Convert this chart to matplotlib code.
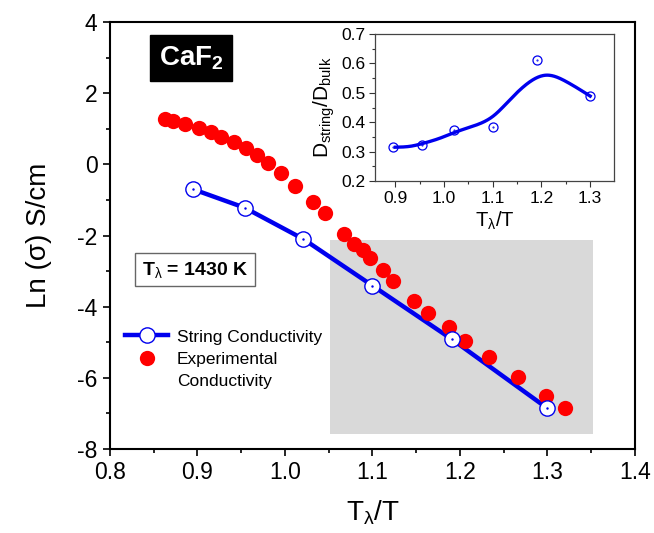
import numpy as np
import matplotlib
matplotlib.use("Agg")
import matplotlib.pyplot as plt
from matplotlib.lines import Line2D
from matplotlib.patches import Rectangle
from matplotlib.ticker import MultipleLocator, FormatStrFormatter

plt.rcParams['font.family'] = ['Liberation Sans', 'DejaVu Sans']
plt.rcParams['mathtext.fontset'] = 'custom'
plt.rcParams['mathtext.rm'] = 'Liberation Sans'
plt.rcParams['mathtext.it'] = 'Liberation Sans'
plt.rcParams['mathtext.bf'] = 'Liberation Sans:bold'
plt.rcParams['axes.unicode_minus'] = False

# Experimental conductivity, ln(sigma) vs T_lambda/T
exp_x = [0.863, 0.872, 0.886, 0.902, 0.915, 0.927, 0.942, 0.956, 0.968, 0.981,
         0.996, 1.011, 1.032, 1.046, 1.067, 1.079, 1.089, 1.097, 1.112, 1.124,
         1.147, 1.164, 1.187, 1.206, 1.233, 1.266, 1.298, 1.320]
exp_y = [1.27, 1.23, 1.13, 1.01, 0.90, 0.78, 0.63, 0.45, 0.26, 0.03,
         -0.25, -0.61, -1.05, -1.38, -1.97, -2.25, -2.41, -2.64, -2.97, -3.27,
         -3.84, -4.19, -4.58, -4.96, -5.41, -5.97, -6.51, -6.84]

# String conductivity
str_x = [0.895, 0.954, 1.021, 1.100, 1.191, 1.299]
str_y = [-0.70, -1.22, -2.10, -3.41, -4.92, -6.84]

# Inset: D_string / D_bulk
ratio_y = [0.315, 0.322, 0.375, 0.384, 0.613, 0.489]
# smoothed trend through the inset points
trend_x = [0.900, 0.930, 0.959, 0.992, 1.026, 1.067, 1.101, 1.135, 1.170, 1.210, 1.251, 1.300]
trend_y = [0.315, 0.318, 0.329, 0.346, 0.368, 0.391, 0.421, 0.476, 0.530, 0.560, 0.538, 0.489]

# highlighted window
win_x = [1.051, 1.352]
win_y = [-7.58, -2.13]

BLUE = '#0000ee'
RED = '#ff0000'


def natural_spline(x, y, n=300):
    x = np.asarray(x, float)
    y = np.asarray(y, float)
    k = len(x)
    h = np.diff(x)
    A = np.zeros((k, k))
    r = np.zeros(k)
    A[0, 0] = A[-1, -1] = 1.0
    for i in range(1, k - 1):
        A[i, i - 1] = h[i - 1]
        A[i, i] = 2 * (h[i - 1] + h[i])
        A[i, i + 1] = h[i]
        r[i] = 3 * ((y[i + 1] - y[i]) / h[i] - (y[i] - y[i - 1]) / h[i - 1])
    c = np.linalg.solve(A, r)
    xs = np.linspace(x[0], x[-1], n)
    idx = np.clip(np.searchsorted(x, xs) - 1, 0, k - 2)
    b = (y[1:] - y[:-1]) / h - h * (2 * c[:-1] + c[1:]) / 3
    d = (c[1:] - c[:-1]) / (3 * h)
    t = xs - x[idx]
    ys = y[idx] + b[idx] * t + c[idx] * t ** 2 + d[idx] * t ** 3
    return xs, ys


fig = plt.figure(figsize=(6.54, 5.33), dpi=100)
ax = fig.add_axes([0.1682, 0.1576, 0.8027, 0.8011])

ax.add_patch(Rectangle((win_x[0], win_y[0]), win_x[1] - win_x[0], win_y[1] - win_y[0],
                       facecolor='#d9d9d9', edgecolor='none', zorder=0))

ax.plot(str_x, str_y, '-', color=BLUE, lw=3.2, zorder=2)
ax.plot(exp_x, exp_y, 'o', color=RED, ms=11, mec='none', zorder=3)
ax.plot(str_x, str_y, 'o', ms=11, mfc='white', mec=BLUE, mew=1.0, ls='none', zorder=4)
ax.plot(str_x, str_y, '.', ms=1.5, color=BLUE, ls='none', zorder=5)

ax.set_xlim(0.8, 1.4)
ax.set_ylim(-8, 4)
ax.xaxis.set_major_locator(MultipleLocator(0.1))
ax.xaxis.set_minor_locator(MultipleLocator(0.05))
ax.yaxis.set_major_locator(MultipleLocator(2))
ax.yaxis.set_minor_locator(MultipleLocator(1))
ax.tick_params(which='both', direction='out', width=1.2, labelsize=16.5, colors='black')
ax.tick_params(which='major', length=5, pad=4)
ax.tick_params(which='minor', length=3)
ax.xaxis.set_major_formatter(FormatStrFormatter('%.1f'))
for s in ax.spines.values():
    s.set_linewidth(1.5)
ax.set_xlabel(r'T$_{\lambda}$/T', fontsize=20, labelpad=10)
ax.set_ylabel('Ln (σ) S/cm', fontsize=20, labelpad=18)

ax.text(0.8926, 2.99, r'CaF$_\mathbf{2}$', color='white', fontsize=20, fontweight='bold',
        ha='center', va='center',
        bbox=dict(boxstyle='square,pad=0.32', facecolor='black', edgecolor='black'))
ax.text(0.897, -2.96, r'T$_\lambda$ = 1430 K', color='black', fontsize=14, fontweight='bold',
        ha='center', va='center',
        bbox=dict(boxstyle='square,pad=0.35', facecolor='white', edgecolor='#666666', lw=1))

h_str = Line2D([], [], color=BLUE, lw=3.2, marker='o', ms=11, mfc='white', mec=BLUE, mew=1.0)
h_exp = Line2D([], [], color=RED, ls='none', marker='o', ms=11, mec='none')
h_blank = Line2D([], [], ls='none', marker='none')
fig.legend([h_str, h_exp, h_blank], ['String Conductivity', 'Experimental', 'Conductivity'],
           loc='upper left', bbox_to_anchor=(0.1911, 0.382), bbox_transform=fig.transFigure,
           frameon=False, fontsize=12.5, handlelength=2.5, handletextpad=0.5,
           labelspacing=0.42, borderpad=0, borderaxespad=0)

# inset
ins = fig.add_axes([0.5734, 0.6604, 0.3654, 0.2758])
tx, ty = natural_spline(trend_x, trend_y)
ins.plot(tx, ty, '-', color=BLUE, lw=2.4, zorder=2)
ins.plot(str_x, ratio_y, 'o', ms=6.5, mfc='none', mec=BLUE, mew=0.9, ls='none', zorder=3)
ins.plot(str_x, ratio_y, '.', ms=1, color=BLUE, ls='none', zorder=4)
ins.set_xlim(0.858, 1.349)
ins.set_ylim(0.2, 0.7)
ins.xaxis.set_major_locator(MultipleLocator(0.1))
ins.xaxis.set_minor_locator(MultipleLocator(0.05))
ins.yaxis.set_major_locator(MultipleLocator(0.1))
ins.yaxis.set_minor_locator(MultipleLocator(0.05))
ins.xaxis.set_major_formatter(FormatStrFormatter('%.1f'))
ins.yaxis.set_major_formatter(FormatStrFormatter('%.1f'))
ins.tick_params(which='both', direction='out', width=0.8, labelsize=12.5, color='#333333')
ins.tick_params(which='major', length=4, pad=3)
ins.tick_params(which='minor', length=2.5)
for s in ins.spines.values():
    s.set_linewidth(0.9)
    s.set_color('#444444')
ins.set_xlabel(r'T$_{\lambda}$/T', fontsize=14.5, labelpad=3)
ins.set_ylabel(r'D$_{\mathrm{string}}$/D$_{\mathrm{bulk}}$', fontsize=15, labelpad=3)

fig.savefig('out.png', dpi=100)
